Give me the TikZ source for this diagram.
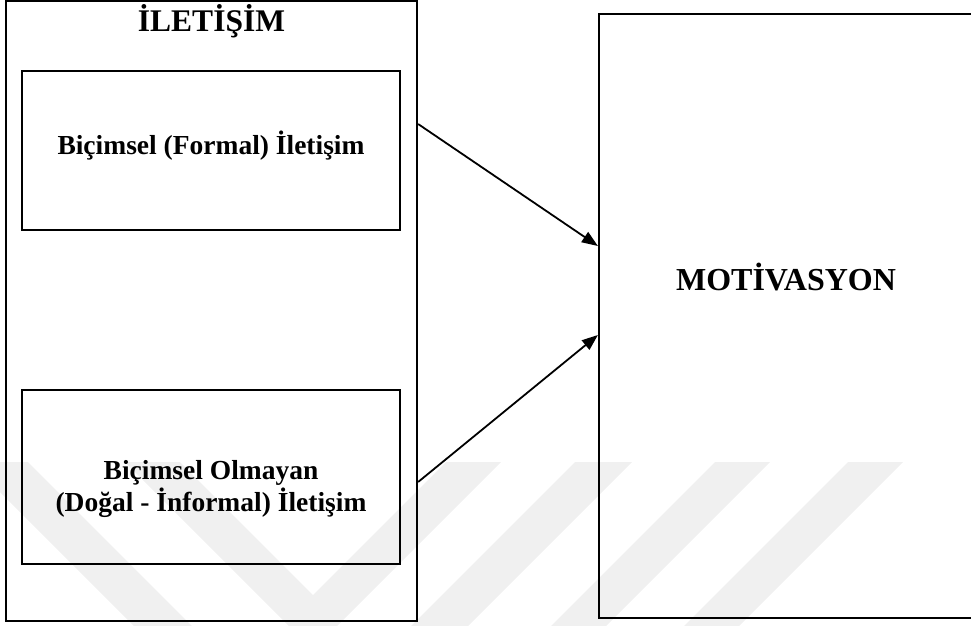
\documentclass[tikz,border=0pt]{standalone}
\usepackage{fontspec}
\setmainfont{Liberation Serif}
\usetikzlibrary{arrows.meta}
\begin{document}
\begin{tikzpicture}[x=1pt,y=-1pt,
  box/.style={draw=black, line width=2.2pt, inner sep=0pt},
  headtext/.style={anchor=base, inner sep=0pt, font=\fontsize{31.5}{36}\selectfont\bfseries},
  boxtext/.style={anchor=base, inner sep=0pt, align=center, font=\fontsize{27.5}{31.7}\selectfont\bfseries},
  link/.style={draw=black, line width=1.8pt, -{Triangle[length=16pt,width=12pt]}},
  wm/.style={fill=black!6}]
\useasboundingbox (0,0) rectangle (971,625);
\clip (0,0) rectangle (971,625);

% faint watermark stripes in the lower part of the page
\fill[wm] (-30,462) -- (28,462) -- (198,632) -- (140,632) -- cycle;
\fill[wm] (125,462) -- (180,462) -- (313,595) -- (446,462) -- (501,462) -- (313,650) -- cycle;
\fill[wm] (575,462) -- (632,462) -- (462,632) -- (405,632) -- cycle;
\fill[wm] (715,462) -- (770,462) -- (600,632) -- (545,632) -- cycle;
\fill[wm] (848,462) -- (903,462) -- (733,632) -- (678,632) -- cycle;

% communication frame with its two kinds
\node[box, minimum width=411pt, minimum height=620pt] (comm) at (211.5,311) {};
\node[headtext] (commtitle) at (211.5,31) {İLETİŞİM};

\node[box, minimum width=378pt, minimum height=159pt] (formal) at (211,150.5) {};
\node[boxtext] (formaltext) at (211,154) {Biçimsel (Formal) İletişim};

\node[box, minimum width=378pt, minimum height=174pt] (informal) at (211,477) {};
% the base anchor of a two-line node sits on the second line
\node[boxtext] (informaltext) at (211,511.5) {Biçimsel Olmayan\\(Doğal - İnformal) İletişim};

% motivation frame
\node[box, minimum width=374pt, minimum height=604pt] (motiv) at (786,316) {};
\node[headtext, font=\fontsize{32}{36}\selectfont\bfseries] (motivtext) at (786,290) {MOTİVASYON};

% influence arrows
\draw[link] ([yshift=187pt]comm.east) -- ([yshift=70pt]motiv.west);
\draw[link] ([yshift=-171pt]comm.east) -- ([yshift=-19pt]motiv.west);
\end{tikzpicture}
\end{document}
